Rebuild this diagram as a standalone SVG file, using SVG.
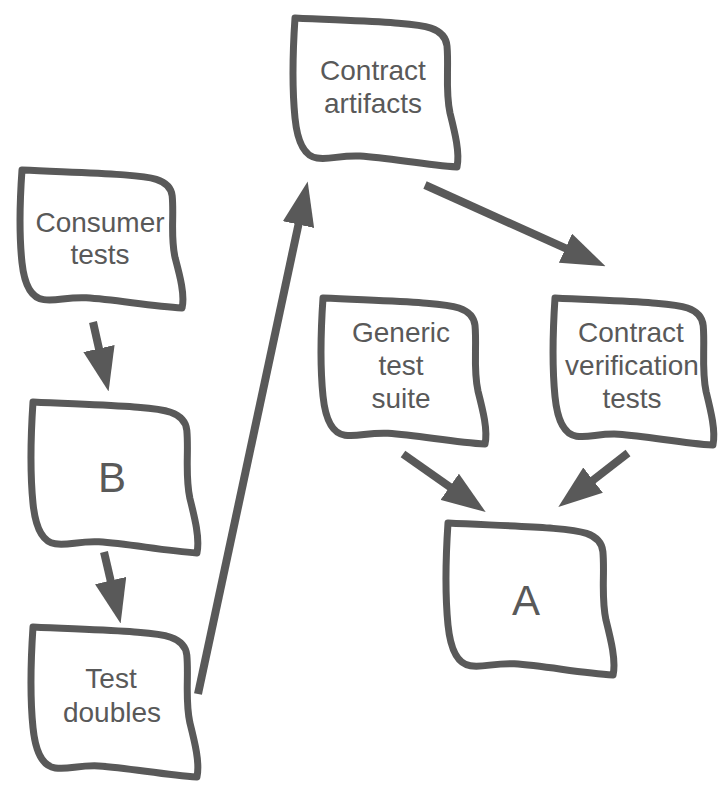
<svg xmlns="http://www.w3.org/2000/svg" xmlns:xlink="http://www.w3.org/1999/xlink" width="726" height="808" viewBox="0 0 726 808">
<style>
.box{fill:#ffffff;stroke:#595959;stroke-width:7;stroke-linejoin:round;vector-effect:non-scaling-stroke}
.lbl{font-family:"Liberation Sans",Arial,sans-serif;font-size:28px;fill:#595959;text-anchor:middle}
.big{font-size:42px}
.arr{stroke:#595959;stroke-width:8;fill:none;stroke-linecap:butt}
</style>
<defs>
<path id="shape" class="box" d="M0,0 C40,2 75,3 100,5 C125,7 150,8 152,28 C154,50 150,72 155,95 C160,115 165,135 162,149 C130,147 95,140 65,138 C45,137 35,142 22,140 C8,138 2,120 0,100 C-3,70 -2,30 0,0 Z"/>
<marker id="head" viewBox="0 0 5.5 4" refX="0.2" refY="2" markerWidth="5.5" markerHeight="4" orient="auto" markerUnits="strokeWidth">
<path d="M0,0 L5.5,2 L0,4 Z" fill="#595959"/>
</marker>
</defs>
<rect width="726" height="808" fill="#ffffff"/>
<g id="connectors">
<line class="arr" x1="93" y1="322" x2="99.3" y2="350.1" marker-end="url(#head)"/>
<line class="arr" x1="104" y1="552" x2="111" y2="582.1" marker-end="url(#head)"/>
<line class="arr" x1="198" y1="694" x2="298.8" y2="223" marker-end="url(#head)"/>
<line class="arr" x1="425" y1="185" x2="566.9" y2="248.9" marker-end="url(#head)"/>
<line class="arr" x1="403" y1="454" x2="451" y2="487.7" marker-end="url(#head)"/>
<line class="arr" x1="628" y1="453" x2="591.8" y2="481.1" marker-end="url(#head)"/>
</g>
<g id="consumer-tests">
<use xlink:href="#shape" transform="translate(22,170) scale(0.988,0.926)"/>
<text class="lbl" x="100" y="232">Consumer</text>
<text class="lbl" x="100" y="264">tests</text>
</g>
<g id="b">
<use xlink:href="#shape" transform="translate(33,402) scale(1.012,1.013)"/>
<text class="lbl big" x="112" y="492">B</text>
</g>
<g id="test-doubles">
<use xlink:href="#shape" transform="translate(33,627) scale(1.012,1.007)"/>
<text class="lbl" x="111" y="688">Test</text>
<text class="lbl" x="112" y="722">doubles</text>
</g>
<g id="contract-artifacts">
<use xlink:href="#shape" transform="translate(295,18)"/>
<text class="lbl" x="373" y="80">Contract</text>
<text class="lbl" x="373" y="113">artifacts</text>
</g>
<g id="generic-test-suite">
<use xlink:href="#shape" transform="translate(323,298) scale(1,0.98)"/>
<text class="lbl" x="401" y="342">Generic</text>
<text class="lbl" x="401" y="375">test</text>
<text class="lbl" x="401" y="408">suite</text>
</g>
<g id="contract-verification-tests">
<use xlink:href="#shape" transform="translate(555,298) scale(0.975,0.987)"/>
<text class="lbl" x="631" y="342">Contract</text>
<text class="lbl" x="632" y="375">verification</text>
<text class="lbl" x="632" y="408">tests</text>
</g>
<g id="a">
<use xlink:href="#shape" transform="translate(448,523) scale(1.019,1.02)"/>
<text class="lbl big" x="526" y="615">A</text>
</g>
</svg>
